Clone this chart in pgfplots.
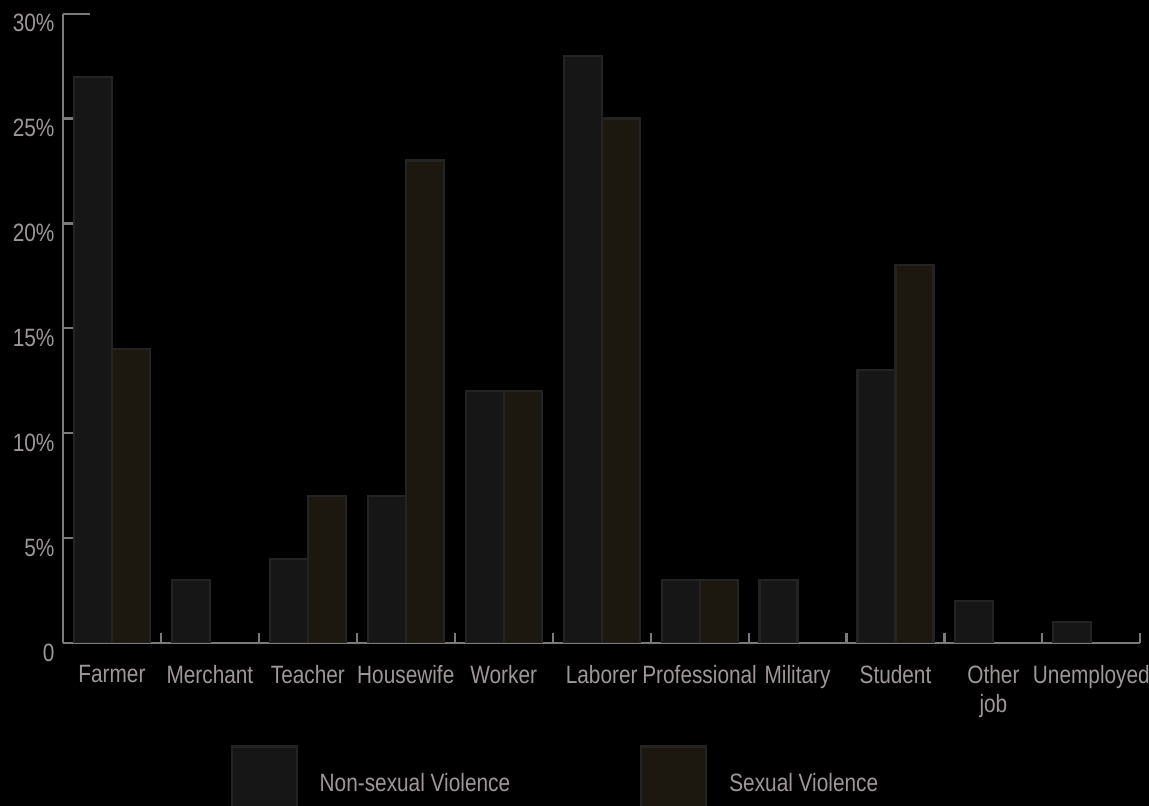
\documentclass[border=0pt]{standalone}
\usepackage{pgfplots}
\pgfplotsset{compat=1.18}
\usepackage{fontspec}
\setmainfont{Liberation Sans}[FakeStretch=0.83]
\definecolor{txt}{HTML}{9E9797}
\definecolor{axln}{HTML}{7A7A7A}
\definecolor{nsv}{HTML}{161616}
\definecolor{sv}{HTML}{1C170F}
\definecolor{edg}{HTML}{232323}
\begin{document}
\begin{tikzpicture}
\fill[black] (-23.625pt,-61.125pt) rectangle (407.25pt,241.125pt);
\begin{axis}[
  scale only axis, width=404pt, height=236pt,
  ybar=0pt, bar width=14.25pt,
  xmin=-0.5, xmax=10.5, ymin=0, ymax=30,
  axis x line*=bottom, axis y line*=left,
  axis line style={draw=axln, line width=0.8pt},
  xtick={0,...,10},
  xticklabels={Farmer,Merchant,Teacher,Housewife,Worker,Laborer,Professional,Military,Student,Other\\job,Unemployed},
  major x tick style={draw=none},
  minor xtick={0.5,1.5,...,10.5},
  minor tick length=3.75pt,
  xtick align=inside, ytick align=inside,
  tick style={draw=axln, line width=0.8pt},
  ytick={0,5,...,25},
  yticklabels={0,5\%,10\%,15\%,20\%,25\%},
  extra y ticks={30}, extra y tick labels={30\%},
  extra y tick style={major tick length=10pt},
  major tick length=3.75pt,
  xticklabel style={font=\fontsize{9.4}{11}\selectfont, text=txt, align=center, anchor=north, inner sep=0pt, yshift=-8pt},
  yticklabel style={font=\fontsize{9.4}{11}\selectfont, text=txt, anchor=north east, inner sep=0pt, xshift=-3pt},
  legend columns=2,
  legend style={at={(axis description cs:0.155,-0.162)}, anchor=north west, draw=none, fill=none,
    inner sep=0pt, column sep=0pt, nodes={inner sep=0pt, text=txt, font=\fontsize{9.4}{11}\selectfont},
    /tikz/every odd column/.append style={column sep=8.25pt},
    /tikz/every even column/.append style={column sep=48.75pt}},
  legend image code/.code={\draw[#1] (0pt,-12pt) rectangle (24.4pt,14.3pt);},
]
\addplot[fill=nsv, draw=edg, line width=0.8pt] coordinates {
(0,27) (1,3) (2,4) (3,7) (4,12) (5,28) (6,3) (7,3) (8,13) (9,2) (10,1)};
\addlegendentry{Non-sexual Violence}
\addplot[fill=sv, draw=edg, line width=0.8pt] coordinates {
(0,14) (2,7) (3,23) (4,12) (5,25) (6,3) (8,18)};
\addlegendentry{Sexual Violence}
\end{axis}
\pgfresetboundingbox
\useasboundingbox (-23.625pt,-61.125pt) rectangle (407.25pt,241.125pt);
\end{tikzpicture}
\end{document}
